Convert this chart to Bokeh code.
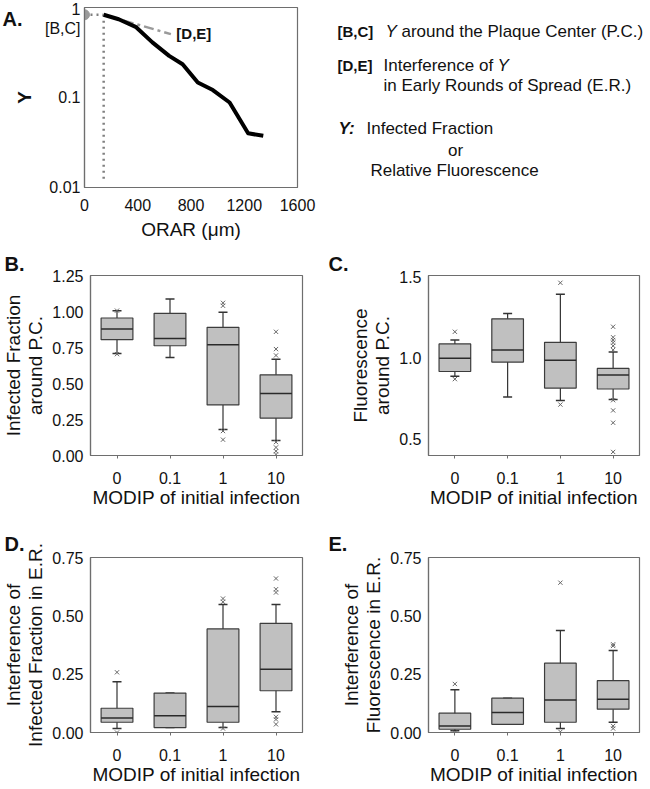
import math
from bokeh.plotting import figure
from bokeh.models import (Range1d, FactorRange, FixedTicker, NumeralTickFormatter,
                          Label, Whisker, TeeHead, ColumnDataSource, Title)
from bokeh.core.properties import value
from bokeh.layouts import column, row
from bokeh.embed import file_html
from bokeh.resources import INLINE

FONT = "Liberation Sans"
FRAME = "#6e6e6e"

# ---------------- Panel A data ----------------
orar_um = [144, 257, 384, 510, 636, 737, 851, 964, 1090, 1229, 1343]
y_profile = [0.83, 0.74, 0.61, 0.41, 0.29, 0.234, 0.147, 0.121, 0.088, 0.040, 0.0375]
pc_orar = [0, 144]
pc_y = [0.83, 0.83]
pc_drop_orar = [144, 144]
pc_drop_y = [0.83, 0.0114]
er_orar = [144, 649]
er_y = [0.83, 0.506]
a_xticks = [0, 400, 800, 1200, 1600]
a_yticks = [0.01, 0.1, 0.577, 1]
a_ytick_labels = ["0.01", "0.1", "[B,C]", "1"]

# ---------------- Box panels data ----------------
modip = ["0", "0.1", "1", "10"]

b_q1 = [0.804, 0.762, 0.351, 0.26]
b_med = [0.878, 0.813, 0.769, 0.43]
b_q3 = [0.955, 0.987, 0.890, 0.56]
b_lo = [0.709, 0.681, 0.181, 0.105]
b_hi = [1.006, 1.087, 0.994, 0.668]
b_out_cat = ["0", "0", "1", "1", "1", "1", "10", "10", "10", "10", "10", "10", "10"]
b_out_val = [1.006, 0.704, 1.06, 1.04, 0.17, 0.11, 0.859, 0.739, 0.695, 0.093, 0.056, 0.03, 0.007]

c_q1 = [0.918, 0.976, 0.816, 0.810]
c_med = [1.0, 1.051, 0.988, 0.896]
c_q3 = [1.088, 1.243, 1.098, 0.937]
c_lo = [0.888, 0.761, 0.739, 0.745]
c_hi = [1.112, 1.276, 1.394, 1.039]
c_out_cat = ["0", "0", "1", "1", "10", "10", "10", "10", "10", "10", "10", "10", "10", "10"]
c_out_val = [1.163, 0.871, 1.465, 0.714, 1.194, 1.129, 1.112, 1.096, 1.076, 1.051, 0.741, 0.678, 0.602, 0.422]

d_q1 = [0.044, 0.021, 0.044, 0.179]
d_med = [0.0625, 0.072, 0.111, 0.271]
d_q3 = [0.104, 0.169, 0.444, 0.468]
d_lo = [0.017, 0.021, 0.021, 0.089]
d_hi = [0.218, 0.169, 0.549, 0.549]
d_out_cat = ["0", "0", "1", "1", "1", "10", "10", "10", "10", "10", "10"]
d_out_val = [0.258, 0.0, 0.574, 0.56, 0.017, 0.66, 0.614, 0.6, 0.067, 0.056, 0.035]

e_q1 = [0.014, 0.035, 0.044, 0.1]
e_med = [0.028, 0.086, 0.139, 0.143]
e_q3 = [0.083, 0.147, 0.297, 0.222]
e_lo = [0.007, 0.035, 0.017, 0.044]
e_hi = [0.183, 0.147, 0.4375, 0.351]
e_out_cat = ["0", "0", "1", "1", "10", "10", "10", "10"]
e_out_val = [0.208, 0.0, 0.642, 0.003, 0.378, 0.371, 0.028, 0.017]


def style_common(p):
    p.grid.visible = False
    p.outline_line_color = FRAME
    p.outline_line_width = 1.2
    p.background_fill_color = "white"
    p.border_fill_color = "white"
    for ax in p.axis:
        ax.axis_line_color = FRAME
        ax.axis_line_width = 1.2
        ax.major_tick_line_color = FRAME
        ax.minor_tick_line_color = None
        ax.major_label_text_font = FONT
        ax.major_label_text_font_size = "16px"
        ax.major_label_text_color = "#111111"
        ax.axis_label_text_font = FONT
        ax.axis_label_text_font_size = "19px"
        ax.axis_label_text_font_style = "normal"
        ax.axis_label_text_color = "#111111"


def blank_fig(width, height, top, bottom):
    p = figure(width=width, height=height, x_range=Range1d(0, width),
               y_range=Range1d(height - bottom, top),
               x_axis_location=None, y_axis_location=None, output_backend="svg",
               toolbar_location=None, min_border_left=0, min_border_right=0,
               min_border_top=top, min_border_bottom=bottom)
    p.grid.visible = False
    p.outline_line_color = None
    p.background_fill_color = "white"
    p.border_fill_color = "white"
    return p


# ---------------- Row 1 geometry ----------------
R1_H, A_T, A_B = 248, 7, 61
AL_W = 34

# strip left of panel A: panel letter and y-axis title
pAL = blank_fig(AL_W, R1_H, A_T, A_B)
pAL.text(x=[2], y=[7], text=["A."], text_font=value(FONT), text_font_size="20px",
         text_font_style="bold", text_align="left", text_baseline="top",
         text_color="#111111")
pAL.text(x=[24], y=[97], text=["Y"], angle=math.pi / 2, text_font=value(FONT),
         text_font_size="19px", text_font_style="bold", text_align="center",
         text_baseline="middle", text_line_height=1.0, text_color="#111111")

# ---------------- Panel A ----------------
pA = figure(width=320 - AL_W, height=R1_H, x_range=Range1d(0, 1600),
            y_range=Range1d(0.01, 1), y_axis_type="log", output_backend="svg",
            toolbar_location=None, min_border_left=50, min_border_right=23,
            min_border_top=A_T, min_border_bottom=A_B)
style_common(pA)
pA.xaxis.ticker = FixedTicker(ticks=a_xticks)
pA.yaxis.ticker = FixedTicker(ticks=a_yticks)
pA.yaxis.major_label_overrides = {t: s for t, s in zip(a_yticks, a_ytick_labels)}
pA.axis.major_tick_out = 0
pA.axis.major_tick_in = 0
pA.xaxis.major_label_standoff = 11
pA.yaxis.major_label_standoff = 4
pA.xaxis.axis_label = "ORAR (\u03bcm)"
pA.xaxis.axis_label_standoff = 5

pA.line(pc_drop_orar, pc_drop_y, line_color="#808080", line_width=2.5, line_dash="2 4")
pA.line(pc_orar, pc_y, line_color="#808080", line_width=2.5, line_dash="2 4")
pA.line(er_orar, er_y, line_color="#9a9a9a", line_width=2.5, line_dash="10 4 3 4")
pA.line(orar_um, y_profile, line_color="black", line_width=4, line_join="round")
pA.scatter([pc_orar[0]], [pc_y[0]], size=10, fill_color="#9a9a9a", line_color="#9a9a9a")
pA.add_layout(Label(x=690, y=0.51, text="[D,E]", text_font=FONT,
                    text_font_size="15px", text_font_style="bold", text_align="left",
                    text_baseline="middle", text_color="#111111"))

# ---------------- Key panel ----------------
pL = blank_fig(328, R1_H, A_T, A_B)


def key_text(x, y, text, style="normal", align="left", size="17px"):
    pL.add_layout(Label(x=x, y=y, text=text, text_font=FONT, text_font_size=size,
                        text_font_style=style, text_align=align, text_baseline="middle",
                        text_color="#111111"))


key_text(17, 31, "[B,C]", "bold", size="15px")
key_text(65, 31, "Y", "italic")
key_text(81, 31, "around the Plaque Center (P.C.)")
key_text(17, 65, "[D,E]", "bold", size="15px")
key_text(63, 65, "Interference of")
key_text(177, 65, "Y", "italic")
key_text(63, 85, "in Early Rounds of Spread (E.R.)")
key_text(18, 128, "Y:", "bold italic")
key_text(46, 128, "Infected Fraction")
key_text(135, 150, "or", align="center")
key_text(134, 170, "Relative Fluorescence", align="center")


# ---------------- Box panels ----------------
def box_panel(width, height, bl, br, bt, bb, ylo, yhi, yticks, yfmt, ylabel,
              q1, med, q3, lo, hi, out_cat, out_val, letter, letter_dx, letter_gap):
    p = figure(width=width, height=height,
               x_range=FactorRange(factors=modip, range_padding=0),
               y_range=Range1d(ylo, yhi), output_backend="svg", toolbar_location=None,
               min_border_left=bl, min_border_right=br, min_border_top=bt,
               min_border_bottom=bb)
    p.title = Title(text=letter, align="left", offset=letter_dx, standoff=letter_gap,
                    text_font=FONT, text_font_size="20px", text_font_style="bold",
                    text_color="#111111")
    style_common(p)
    p.yaxis.ticker = FixedTicker(ticks=yticks)
    p.yaxis.formatter = NumeralTickFormatter(format=yfmt)
    p.yaxis.major_tick_out = 0
    p.yaxis.major_tick_in = 0
    p.yaxis.major_label_standoff = 7
    p.yaxis.axis_label = ylabel
    p.yaxis.axis_label_standoff = 3
    p.yaxis.axis_label_text_line_height = 1.05
    p.xaxis.major_tick_out = 3
    p.xaxis.major_tick_in = 0
    p.xaxis.major_label_standoff = 13
    p.xaxis.axis_label = "MODIP of initial infection"
    p.xaxis.axis_label_standoff = 0
    p.xaxis.axis_label_text_line_height = 1.0

    src = ColumnDataSource(dict(cat=modip, q1=q1, med=med, q3=q3, lo=lo, hi=hi))
    w = Whisker(base="cat", lower="lo", upper="hi", source=src, dimension="height",
                line_color="#333333", line_width=1.2, level="underlay",
                upper_head=TeeHead(size=9, line_color="#333333", line_width=1.5),
                lower_head=TeeHead(size=9, line_color="#333333", line_width=1.5))
    p.add_layout(w)
    p.vbar(x="cat", top="q3", bottom="q1", width=0.6, source=src,
           fill_color="#c0c0c0", line_color="#3c3c3c", line_width=1.2)
    p.vbar(x="cat", top="med", bottom="med", width=0.6, source=src,
           fill_alpha=0, line_color="#2a2a2a", line_width=1.5)
    p.scatter(x=out_cat, y=out_val, marker="x", size=6, line_color="#666666",
              line_width=1)
    return p


pB = box_panel(320, 262, 90, 18, 27, 54, 0, 1.25, [0, 0.25, 0.5, 0.75, 1.0, 1.25], "0.00",
               "Infected Fraction\naround P.C.", b_q1, b_med, b_q3, b_lo, b_hi,
               b_out_cat, b_out_val, "B.", -86, 2)
pC = box_panel(328, 262, 108, 9, 27, 54, 0.4, 1.51, [0.5, 1.0, 1.5], "0.0",
               "Fluorescence\naround P.C.", c_q1, c_med, c_q3, c_lo, c_hi,
               c_out_cat, c_out_val, "C.", -100, 2)
pD = box_panel(320, 277, 90, 18, 47, 52, 0, 0.75, [0, 0.25, 0.5, 0.75], "0.00",
               "Interference of\nInfected Fraction in E.R.", d_q1, d_med, d_q3, d_lo, d_hi,
               d_out_cat, d_out_val, "D.", -86, 6)
pE = box_panel(328, 277, 108, 9, 47, 52, 0, 0.75, [0, 0.25, 0.5, 0.75], "0.00",
               "Interference of\nFluorescence in E.R.", e_q1, e_med, e_q3, e_lo, e_hi,
               e_out_cat, e_out_val, "E.", -100, 6)

layout = column(row(pAL, pA, pL), row(pB, pC), row(pD, pE))
open("out.html", "w").write(file_html(layout, INLINE))
